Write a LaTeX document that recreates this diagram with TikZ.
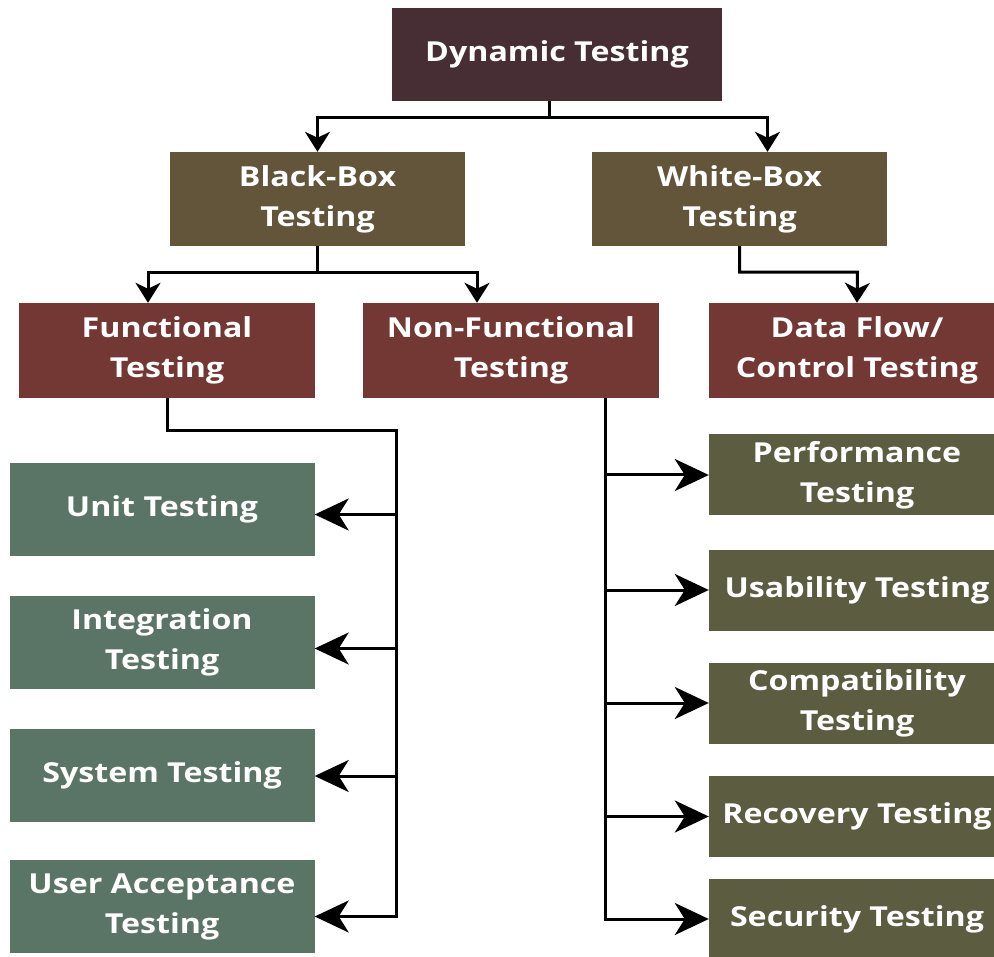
\documentclass[tikz,border=0pt]{standalone}
\usepackage{fontspec}
\setmainfont{Open Sans}
\newfontfamily\boxfont[FakeStretch=1.17]{Open Sans}
\usetikzlibrary{arrows.meta,positioning}
\tikzset{
  box/.style={rectangle,inner sep=0pt,text=white,align=center,
              font=\boxfont\bfseries\fontsize{27.5}{40}\selectfont},
  link/.style={line width=3pt,black},
  flow/.style={link,-{Stealth[length=20pt,width=25pt,inset=6pt]}},
  branch/.style={link,-{Stealth[length=34pt,width=32pt,inset=10pt]}}
}

\begin{document}
\begin{tikzpicture}[x=1pt,y=-1pt]
    % Color definitions
    \definecolor{dyncol}{HTML}{472E35}
    \definecolor{boxcol}{HTML}{62553A}
    \definecolor{kindcol}{HTML}{733833}
    \definecolor{funccol}{HTML}{5A7565}
    \definecolor{nfcol}{HTML}{5C5C40}

    % Box styles
    \tikzstyle{dynbox}  =[box,fill=dyncol,minimum width=330pt,minimum height=93pt]
    \tikzstyle{levelbox}=[box,fill=boxcol,minimum width=295pt,minimum height=94pt]
    \tikzstyle{kindbox} =[box,fill=kindcol,minimum width=296pt,minimum height=95pt]
    \tikzstyle{funcbox} =[box,fill=funccol,minimum width=305pt,minimum height=93pt]
    \tikzstyle{nfbox}   =[box,fill=nfcol,minimum width=296pt,minimum height=81pt]

    \useasboundingbox (0,0) rectangle (994,957);
    \clip (0,0) rectangle (994,957);

    % Top levels
    \node[dynbox]   (dyn)  at (557,54.5)  {Dynamic Testing};
    \node[levelbox] (bbox) at (317.5,199) {Black-Box\\Testing};
    \node[levelbox] (wbox) at (739.5,199) {White-Box\\Testing};
    \node[kindbox]  (func) at (167,350.5) {Functional\\Testing};
    \node[kindbox]  (nonf) at (511,350.5) {Non-Functional\\Testing};
    \node[kindbox]  (data) at (857,350.5) {Data Flow/\\Control Testing};

    % Functional kinds
    \node[funcbox] (unit)  at (162,509.5) {Unit Testing};
    \node[funcbox] (integ) at (162,642.5) {Integration\\Testing};
    \node[funcbox] (sys)   at (162,775)   {System Testing};
    \node[funcbox] (uat)   at (162,906.5) {User Acceptance\\Testing};

    % Non-functional kinds
    \node[nfbox] (perf)   at (857,475)   {Performance\\Testing};
    \node[nfbox] (usab)   at (857,590)   {Usability Testing};
    \node[nfbox] (compat) at (857,703)   {Compatibility\\Testing};
    \node[nfbox] (recov)  at (857,816.5) {Recovery Testing};
    \node[nfbox] (secur)  at (857,919)   {Security Testing};

    % Tree connectors
    \draw[link] ([xshift=-8]dyn.south) -- ++(0,16) coordinate (dyntap);
    \draw[flow] (dyntap) -| (bbox.north);
    \draw[flow] (dyntap) -| ([xshift=28]wbox.north);
    \draw[link] (bbox.south) -- ++(0,26) coordinate (bbtap);
    \draw[flow] (bbtap) -| ([xshift=-19]func.north);
    \draw[flow] (bbtap) -| ([xshift=-34]nonf.north);
    \draw[flow] (wbox.south) |- ++(118,26) -- (data.north);

    % Functional bus
    \coordinate (fbus) at (396,431);
    \draw[branch] (func.south) |- (fbus) |- ([yshift=-10]uat.east);
    \foreach \n/\dy in {unit/5,integ/6,sys/1}
      \draw[branch] (fbus |- \n.east) ++(0,\dy) coordinate (tap) -- (tap -| \n.east);

    % Non-functional bus
    \draw[branch] ([xshift=94]nonf.south) coordinate (nbus) |- (secur.west);
    \foreach \n in {perf,usab,compat,recov}
      \draw[branch] (nbus |- \n.west) -- (\n.west);
\end{tikzpicture}
\end{document}
